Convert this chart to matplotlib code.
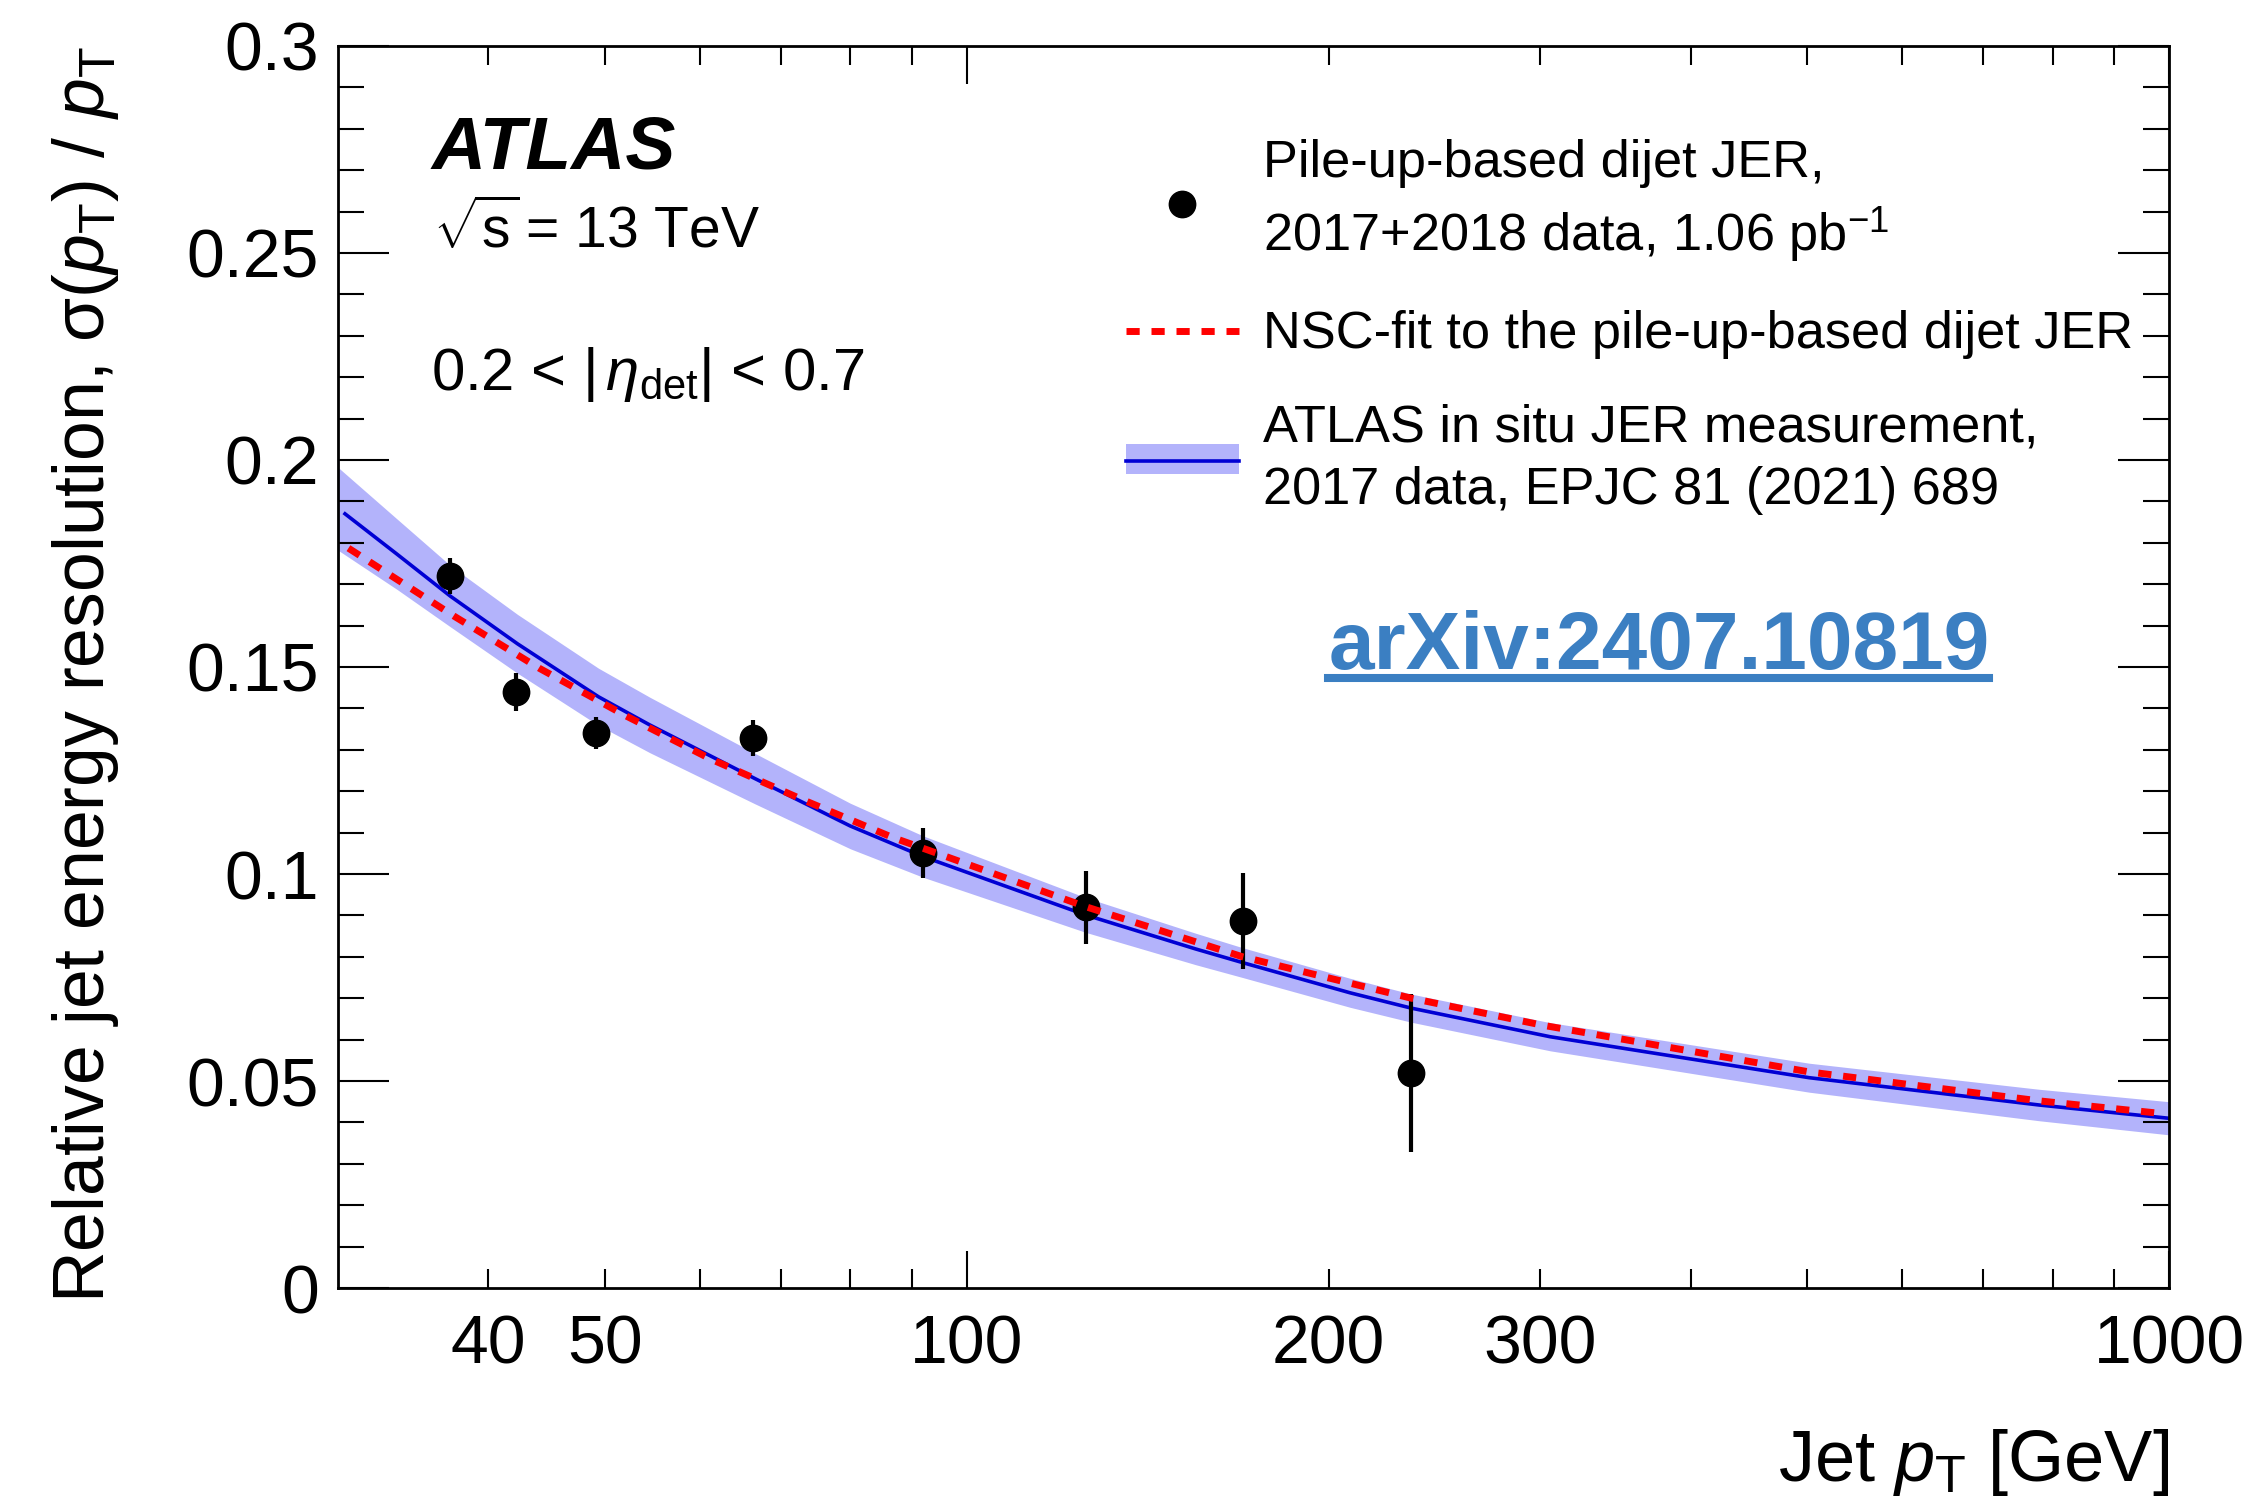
import numpy as np
import matplotlib
matplotlib.use("Agg")
import matplotlib.pyplot as plt
from matplotlib.lines import Line2D
from matplotlib.patches import Patch
from matplotlib.ticker import FixedLocator, FuncFormatter, MultipleLocator

plt.rcParams['font.family'] = ['Liberation Sans', 'DejaVu Sans']
plt.rcParams['mathtext.fontset'] = 'custom'
plt.rcParams['mathtext.rm'] = 'Liberation Sans'
plt.rcParams['mathtext.it'] = 'Liberation Sans:italic'
plt.rcParams['mathtext.bf'] = 'Liberation Sans:bold'

# pile-up-based dijet JER points
data_pt = [37.2, 42.2, 49.2, 66.4, 92.0, 125.6, 169.6, 234.3]
data_jer = [0.1720, 0.1440, 0.1341, 0.1328, 0.1051, 0.0920, 0.0886, 0.0519]
data_err = [0.0044, 0.0046, 0.0039, 0.0044, 0.0060, 0.0088, 0.0116, 0.0190]

# NSC fit
fit_pt = [30.6, 37.5, 44.1, 51.9, 61.1, 73.1, 86.8, 92.0, 125.6, 169.6, 234.3, 301.0, 502.0, 780.0, 990.0]
fit_jer = [0.1787, 0.1622, 0.1497, 0.1384, 0.1279, 0.1179, 0.1088, 0.1062, 0.0921, 0.0800, 0.0700,
           0.0635, 0.0522, 0.0452, 0.0421]

# ATLAS in situ JER: central line
line_pt = [30.4, 33.6, 37.2, 42.3, 49.4, 54.5, 66.6, 80.0, 92.0, 125.6, 155.0, 169.6, 208.4, 234.3,
           305.6, 502.0, 780.0, 1000.0]
line_jer = [0.1870, 0.1772, 0.1671, 0.1556, 0.1428, 0.1360, 0.1231, 0.1116, 0.1042, 0.0901, 0.0819,
            0.0786, 0.0713, 0.0676, 0.0607, 0.0508, 0.0442, 0.0410]
# ATLAS in situ JER: uncertainty band edges
band_pt = [30.0, 33.6, 37.2, 42.3, 49.4, 54.5, 66.6, 80.0, 92.0, 125.6, 155.0, 169.6, 208.4, 234.3,
           305.6, 502.0, 780.0, 1000.0]
band_lo = [0.1782, 0.1687, 0.1597, 0.1485, 0.1359, 0.1293, 0.1170, 0.1061, 0.0992, 0.0859, 0.0781,
           0.0750, 0.0678, 0.0642, 0.0573, 0.0473, 0.0404, 0.0370]
band_hi = [0.1982, 0.1857, 0.1745, 0.1627, 0.1497, 0.1427, 0.1292, 0.1171, 0.1092, 0.0943, 0.0857,
           0.0822, 0.0748, 0.0710, 0.0641, 0.0543, 0.0480, 0.0450]

xmajor = [100, 1000]
xminor = [40, 50, 60, 70, 80, 90, 200, 300, 400, 500, 600, 700, 800, 900]
xlabels_shown = [40, 50, 100, 200, 300, 1000]

band_col = '#b3b3fb'
line_col = '#0000d4'
red = '#ff0000'
link_col = '#3b7fc2'

fig = plt.figure(figsize=(22.45, 15.07), dpi=100)
ax = fig.add_axes([0.1506, 0.1453, 0.8156, 0.8242])

ax.fill_between(band_pt, band_lo, band_hi, color=band_col, lw=0, zorder=1)
ax.plot(line_pt, line_jer, color=line_col, lw=2.6, zorder=2)
ax.errorbar(data_pt, data_jer, yerr=data_err, fmt='o', color='k', ms=19, elinewidth=3,
            capsize=0, zorder=3)
ax.plot(fit_pt, fit_jer, color=red, lw=5, dashes=(1.9, 1.7), dash_capstyle='butt', zorder=4)

ax.set_xscale('log')
ax.set_xlim(30, 1000)
ax.set_ylim(0, 0.3)

ax.xaxis.set_major_locator(FixedLocator(xmajor))
ax.xaxis.set_minor_locator(FixedLocator(xminor))
lab = lambda v, p: ('%d' % v) if int(round(v)) in xlabels_shown else ''
ax.xaxis.set_major_formatter(FuncFormatter(lab))
ax.xaxis.set_minor_formatter(FuncFormatter(lab))
ax.yaxis.set_major_locator(MultipleLocator(0.05))
ax.yaxis.set_minor_locator(MultipleLocator(0.01))
ax.yaxis.set_major_formatter(FuncFormatter(lambda v, p: ('%g' % round(v, 3))))

ax.tick_params(which='both', direction='in', top=True, right=True, width=1.5, labelsize=49)
ax.tick_params(axis='y', which='major', length=37, pad=14)
ax.tick_params(axis='y', which='minor', length=19)
ax.tick_params(axis='x', which='major', length=27, pad=18)
ax.tick_params(axis='x', which='minor', length=14, pad=18)
for s in ax.spines.values():
    s.set_linewidth(2)

ax.set_ylabel(r'Relative jet energy resolution, σ($p_{\mathrm{T}}$) / $p_{\mathrm{T}}$',
              fontsize=51.5, loc='top', labelpad=47)
ax.set_xlabel(r'Jet $p_{\mathrm{T}}$ [GeV]', fontsize=52, loc='right', labelpad=36)

ax.text(0.0513, 0.901, 'ATLAS', transform=ax.transAxes, fontsize=54, fontweight='bold',
        fontstyle='italic', va='baseline')
ax.text(0.0519, 0.8374, r'$\sqrt{\mathrm{s}}\!$ = 13 TeV', transform=ax.transAxes, fontsize=41,
        va='baseline')
ax.text(0.0505, 0.723, r'0.2 < $|\,\eta_{\mathrm{det}}|$ < 0.7', transform=ax.transAxes,
        fontsize=43, va='baseline')

arx_pos = (0.5407, 0.4984)
arx = ax.text(arx_pos[0], arx_pos[1], 'arXiv:2407.10819', transform=ax.transAxes, fontsize=59,
              fontweight='bold', color=link_col, va='baseline')

h_data = Line2D([], [], marker='o', ls='', color='k', ms=19)
h_fit = Line2D([], [], color=red, lw=5, dashes=(1.9, 1.7), dash_capstyle='butt')
h_insitu = (Patch(facecolor=band_col, edgecolor='none'), Line2D([], [], color=line_col, lw=2.6))
leg = ax.legend([h_data, h_fit, h_insitu],
                ['Pile-up-based dijet JER,\n2017+2018 data, 1.06 pb$^{-1}$',
                 'NSC-fit to the pile-up-based dijet JER',
                 'ATLAS in situ JER measurement,\n2017 data, EPJC 81 (2021) 689'],
                loc='upper left', bbox_to_anchor=(0.4304, 0.925), frameon=False, fontsize=37.7,
                handlelength=2.15, handleheight=0.5, handletextpad=0.47, labelspacing=0.85,
                borderpad=0, borderaxespad=0)
for t in leg.get_texts():
    t.set_linespacing(1.35)

# underline for the arXiv link
fig.canvas.draw()
bb = arx.get_window_extent()
base_y = ax.transAxes.transform(arx_pos)[1]
fig.add_artist(Line2D([bb.x0, bb.x1], [base_y - 9, base_y - 9], transform=None,
                      color=link_col, lw=5.8))

fig.savefig('out.png', dpi=100)
